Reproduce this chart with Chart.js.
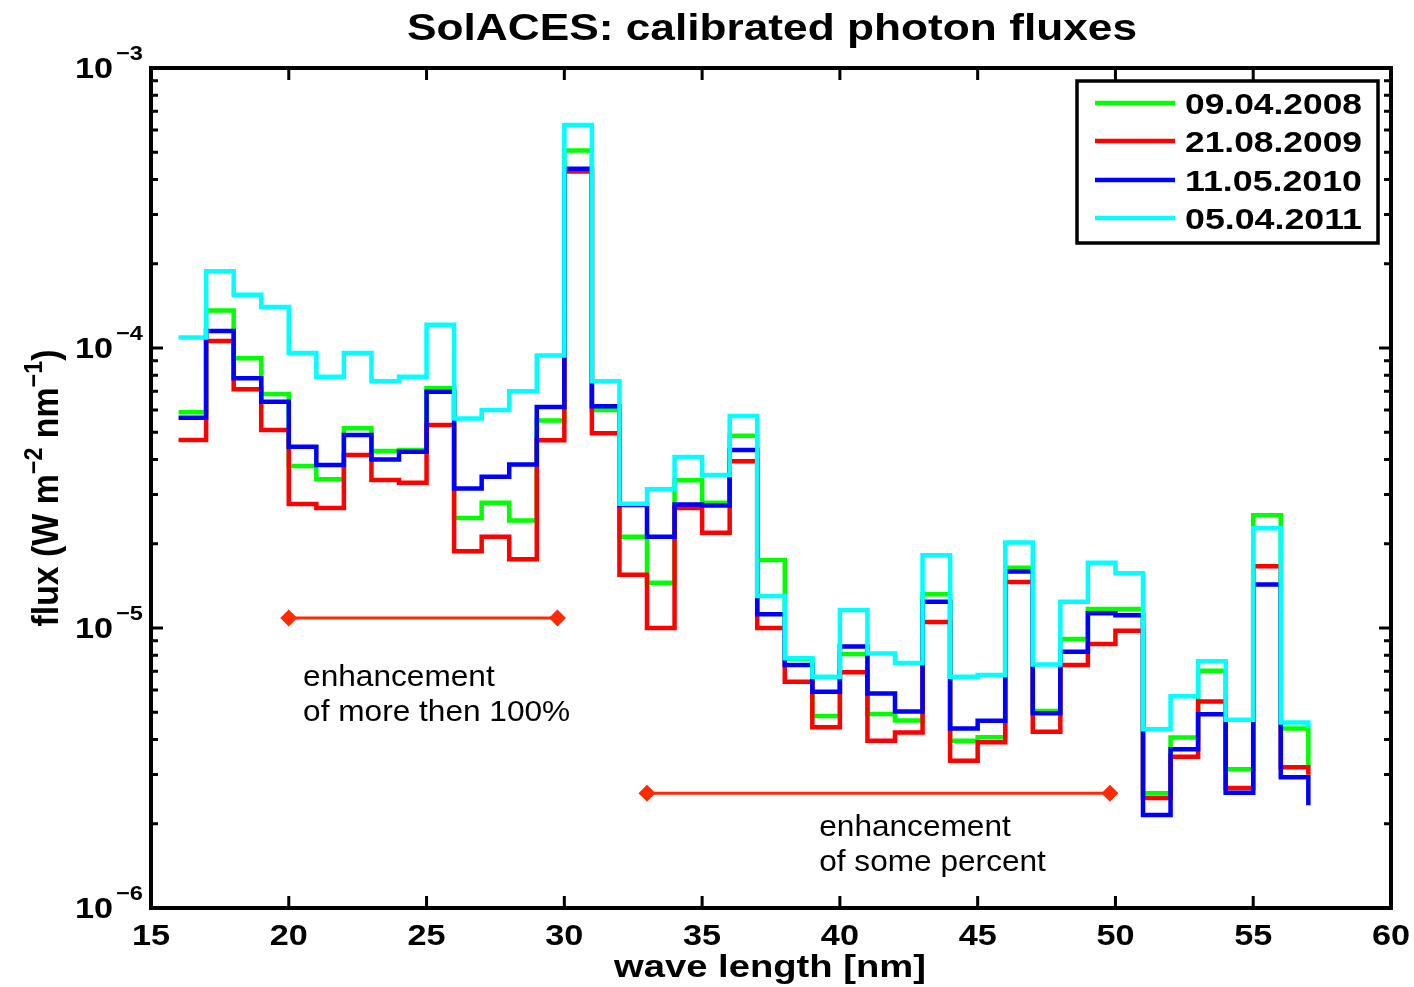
<!DOCTYPE html>
<html>
<head>
<meta charset="utf-8">
<script src="https://cdn.jsdelivr.net/npm/chart.js@4.4.0/dist/chart.umd.min.js"></script>
<style>
  html, body { margin: 0; background: #fff; }
  #wrap { width: 1414px; height: 987px; }
</style>
</head>
<body>
<div id="wrap"><canvas id="chart"></canvas></div>
<script>
// --- DATA ---
const wavelengths = [16, 17, 18, 19, 20, 21, 22, 23, 24, 25, 26, 27, 28, 29, 30, 31, 32, 33, 34, 35, 36,
  37, 38, 39, 40, 41, 42, 43, 44, 45, 46, 47, 48, 49, 50, 51, 52, 53, 54, 55, 56, 57];

const flux2008 = [5.9e-5, 1.36e-4, 9.2e-5, 6.85e-5, 3.79e-5, 3.40e-5, 5.17e-5, 4.29e-5, 4.32e-5, 7.18e-5,
  2.47e-5, 2.80e-5, 2.42e-5, 5.51e-5, 5.07e-4, 6.0e-5, 2.12e-5, 1.45e-5, 3.37e-5, 2.80e-5, 4.86e-5,
  1.75e-5, 7.75e-6, 4.85e-6, 8.07e-6, 4.93e-6, 4.67e-6, 1.32e-5, 3.96e-6, 4.07e-6, 1.64e-5, 5.05e-6,
  9.13e-6, 1.17e-5, 1.17e-5, 2.57e-6, 4.06e-6, 7.04e-6, 3.13e-6, 2.53e-5, 4.38e-6, 3.2e-6];

const flux2009 = [4.69e-5, 1.06e-4, 7.12e-5, 5.10e-5, 2.77e-5, 2.68e-5, 4.15e-5, 3.38e-5, 3.30e-5, 5.31e-5,
  1.88e-5, 2.12e-5, 1.76e-5, 4.68e-5, 4.27e-4, 4.96e-5, 1.55e-5, 1.0e-5, 2.68e-5, 2.19e-5, 3.94e-5,
  1.0e-5, 6.43e-6, 4.42e-6, 6.95e-6, 3.96e-6, 4.23e-6, 1.05e-5, 3.36e-6, 3.91e-6, 1.46e-5, 4.26e-6,
  7.38e-6, 8.77e-6, 9.78e-6, 2.47e-6, 3.47e-6, 5.46e-6, 2.68e-6, 1.66e-5, 3.18e-6, 2.99e-6];

const flux2010 = [5.64e-5, 1.15e-4, 7.79e-5, 6.43e-5, 4.44e-5, 3.82e-5, 4.89e-5, 4.0e-5, 4.26e-5, 6.98e-5,
  3.15e-5, 3.47e-5, 3.84e-5, 6.16e-5, 4.37e-4, 6.19e-5, 2.75e-5, 2.12e-5, 2.76e-5, 2.74e-5, 4.32e-5,
  1.12e-5, 7.38e-6, 5.92e-6, 8.58e-6, 5.84e-6, 5.03e-6, 1.24e-5, 4.38e-6, 4.66e-6, 1.59e-5, 4.96e-6,
  8.23e-6, 1.13e-5, 1.11e-5, 2.15e-6, 3.69e-6, 4.92e-6, 2.58e-6, 1.43e-5, 2.93e-6, 2.33e-6];

const flux2011 = [1.09e-4, 1.88e-4, 1.55e-4, 1.40e-4, 9.6e-5, 7.9e-5, 9.6e-5, 7.6e-5, 7.9e-5, 1.21e-4,
  5.6e-5, 6.0e-5, 7.0e-5, 9.4e-5, 6.26e-4, 7.6e-5, 2.78e-5, 3.13e-5, 4.08e-5, 3.52e-5, 5.72e-5,
  1.30e-5, 7.8e-6, 6.7e-6, 1.16e-5, 8.1e-6, 7.5e-6, 1.82e-5, 6.7e-6, 6.8e-6, 2.02e-5, 7.4e-6,
  1.24e-5, 1.71e-5, 1.57e-5, 4.35e-6, 5.7e-6, 7.6e-6, 4.7e-6, 2.27e-5, 4.6e-6, 4.4e-6];

const seriesLabels = ["09.04.2008", "21.08.2009", "11.05.2010", "05.04.2011"];
const seriesColors = ["#00ff00", "#ff0000", "#0000ff", "#00ffff"];

// enhancement markers: [x start, x end] at a flux level
const bandLow = [20, 29.75];
const bandLowFlux = 1.085e-5;
const bandHigh = [33, 49.8];
const bandHighFlux = 2.57e-6;

const xTickValues = [15, 20, 25, 30, 35, 40, 45, 50, 55, 60];
const yTickExponents = [-6, -5, -4, -3];

const titleText = "SolACES: calibrated photon fluxes";
const xAxisText = "wave length [nm]";

// --- HELPERS ---
const FONT = '"Liberation Sans", Arial, Helvetica, sans-serif';
const SX = 1.18; // reference text is stretched horizontally

function drawText(ctx, str, x, y, font, align, width) {
  ctx.save();
  ctx.font = font;
  const w = ctx.measureText(str).width;
  const sx = width ? width / w : SX;
  ctx.translate(x, y);
  ctx.scale(sx, 1);
  ctx.textAlign = align;
  ctx.textBaseline = "alphabetic";
  ctx.fillStyle = "#000";
  ctx.fillText(str, 0, 0);
  ctx.restore();
}

const toPoints = (vals) => wavelengths.map((w, i) => ({ x: w, y: vals[i] }));

const fluxSets = [flux2008, flux2009, flux2010, flux2011].map((vals, i) => ({
  label: seriesLabels[i],
  data: toPoints(vals),
  borderColor: seriesColors[i],
  borderWidth: 4.5,
  stepped: "before",
  pointRadius: 0,
  fill: false,
  borderJoinStyle: "miter",
  borderCapStyle: "butt",
  order: 3 - i, // last series drawn on top
}));

const bandStyle = {
  borderColor: "#ff2a00",
  backgroundColor: "#ff2a00",
  borderWidth: 3,
  pointStyle: "rectRot",
  pointRadius: 8.5,
  pointBorderWidth: 0,
  pointBackgroundColor: "#ff2a00",
  fill: false,
  order: -1,
};

const bandSets = [
  Object.assign({ label: "low", data: bandLow.map((x) => ({ x: x, y: bandLowFlux })) }, bandStyle),
  Object.assign({ label: "high", data: bandHigh.map((x) => ({ x: x, y: bandHighFlux })) }, bandStyle),
];

const notes = [
  { x: 20.52, y: 6.2e-6, lines: ["enhancement", "of more then 100%"] },
  { x: 39.25, y: 1.81e-6, lines: ["enhancement", "of some percent"] },
];

// --- AXES, LABELS, LEGEND (MATLAB look) ---
const matlabAxes = {
  id: "matlabAxes",
  afterDraw(chart) {
    const ctx = chart.ctx;
    const { left, right, top, bottom } = chart.chartArea;
    const xs = chart.scales.x;
    const ys = chart.scales.y;

    ctx.save();
    ctx.strokeStyle = "#000";
    ctx.lineCap = "butt";

    // x ticks, bottom and top
    ctx.lineWidth = 3;
    xTickValues.forEach((v) => {
      const px = xs.getPixelForValue(v);
      ctx.beginPath();
      ctx.moveTo(px, bottom); ctx.lineTo(px, bottom - 12);
      ctx.moveTo(px, top); ctx.lineTo(px, top + 12);
      ctx.stroke();
    });

    // y ticks, major and minor, left and right
    yTickExponents.forEach((e) => {
      const py = ys.getPixelForValue(Math.pow(10, e));
      ctx.beginPath();
      ctx.moveTo(left, py); ctx.lineTo(left + 12, py);
      ctx.moveTo(right, py); ctx.lineTo(right - 12, py);
      ctx.stroke();
      if (e < -3) {
        for (let m = 2; m <= 9; m++) {
          const my = ys.getPixelForValue(m * Math.pow(10, e));
          ctx.beginPath();
          ctx.moveTo(left, my); ctx.lineTo(left + 7, my);
          ctx.moveTo(right, my); ctx.lineTo(right - 7, my);
          ctx.stroke();
        }
      }
    });

    // frame
    ctx.lineWidth = 4;
    ctx.strokeRect(left, top, right - left, bottom - top);

    // x tick labels
    xTickValues.forEach((v) => {
      drawText(ctx, String(v), xs.getPixelForValue(v), bottom + 37, "bold 29px " + FONT, "center");
    });

    // y tick labels 10^e
    yTickExponents.forEach((e) => {
      const py = ys.getPixelForValue(Math.pow(10, e));
      drawText(ctx, "10", left - 38, py + 10, "bold 29px " + FONT, "right");
      drawText(ctx, "\u2212" + Math.abs(e), left - 35, py - 8, "bold 20px " + FONT, "left");
    });

    // title and x label
    drawText(ctx, titleText, 772, 40, "bold 36px " + FONT, "center", 730);
    drawText(ctx, xAxisText, 770, 977, "bold 31px " + FONT, "center", 312);

    // y label, rotated, with superscripts
    const parts = [
      { t: "flux (W m", sup: false },
      { t: "\u22122", sup: true },
      { t: " nm", sup: false },
      { t: "\u22121", sup: true },
      { t: ")", sup: false },
    ];
    const mainFont = "bold 29px " + FONT;
    const supFont = "bold 20px " + FONT;
    let total = 0;
    parts.forEach((p) => {
      ctx.font = p.sup ? supFont : mainFont;
      p.w = ctx.measureText(p.t).width;
      total += p.w;
    });
    const targetLen = 277;
    ctx.save();
    ctx.translate(58, 488);
    ctx.rotate(-Math.PI / 2);
    ctx.scale(targetLen / total, 1.25);
    ctx.fillStyle = "#000";
    ctx.textBaseline = "alphabetic";
    ctx.textAlign = "left";
    let cx = -total / 2;
    parts.forEach((p) => {
      ctx.font = p.sup ? supFont : mainFont;
      ctx.fillText(p.t, cx, p.sup ? -13 : 0);
      cx += p.w;
    });
    ctx.restore();

    // annotation texts
    notes.forEach((n) => {
      const nx = xs.getPixelForValue(n.x);
      const ny = ys.getPixelForValue(n.y);
      n.lines.forEach((line, i) => {
        ctx.save();
        ctx.font = "29px " + FONT;
        ctx.translate(nx, ny + i * 35);
        ctx.scale(1.09, 1);
        ctx.fillStyle = "#000";
        ctx.textAlign = "left";
        ctx.fillText(line, 0, 0);
        ctx.restore();
      });
    });

    // legend box
    const lx = 1077, ly = 81, lw = 301, lh = 162;
    ctx.fillStyle = "#fff";
    ctx.fillRect(lx, ly, lw, lh);
    ctx.lineWidth = 3.5;
    ctx.strokeStyle = "#000";
    ctx.strokeRect(lx, ly, lw, lh);
    const rows = [103, 141, 180, 218];
    seriesLabels.forEach((lab, i) => {
      ctx.beginPath();
      ctx.strokeStyle = seriesColors[i];
      ctx.lineWidth = 4.5;
      ctx.moveTo(1095, rows[i]);
      ctx.lineTo(1175, rows[i]);
      ctx.stroke();
      drawText(ctx, lab, 1185, rows[i] + 11, "bold 30px " + FONT, "left", 177);
    });

    ctx.restore();
  },
};

const chart = new Chart(document.getElementById("chart"), {
  type: "line",
  data: { datasets: fluxSets.concat(bandSets) },
  options: {
    responsive: true,
    maintainAspectRatio: false,
    animation: false,
    layout: { padding: { left: 151, right: 23, top: 68, bottom: 79 } },
    plugins: {
      legend: { display: false },
      title: { display: false },
      tooltip: { enabled: false },
    },
    scales: {
      x: { type: "linear", min: 15, max: 60, display: false },
      y: { type: "logarithmic", min: 1e-6, max: 1e-3, display: false },
    },
  },
  plugins: [matlabAxes],
});
</script>
</body>
</html>
